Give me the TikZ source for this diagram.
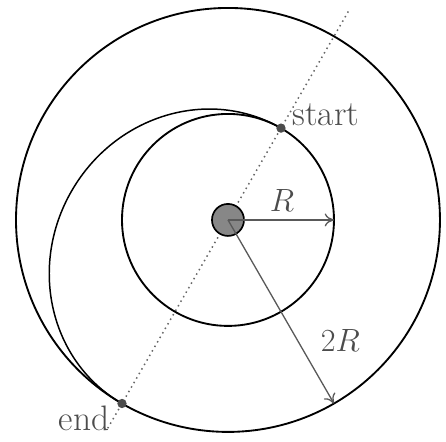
\documentclass[tikz,border=0pt]{standalone}
\usetikzlibrary{arrows.meta}
\begin{document}
\begin{tikzpicture}[x=2cm,y=2cm,
  orbit/.style={line width=1pt,black},
  transfer/.style={line width=0.8pt,black},
  dim/.style={draw=black!65,line width=0.7pt,-{To[length=5pt,width=7pt]}},
  lbl/.style={text=black!70,font=\fontsize{16}{19}\selectfont},
  txt/.style={text=black!70,font=\fontsize{19}{22}\selectfont},
  pt/.style={circle,fill=black!70,inner sep=0pt,minimum size=5pt}]
\useasboundingbox (-2.151,-2.094) rectangle (2.057,2.075);
\coordinate (c) at (0,0);
% dotted line
\coordinate (top) at (60:2.3);
\coordinate (bot) at (240:2.27);
\draw[dotted,black!60,line width=0.8pt] (bot) -- (top);
% orbits
\draw[orbit] (c) circle (1);
\draw[orbit] (c) circle (2);
% transfer half ellipse
\draw[transfer,rotate=60] (1,0) arc (0:180:1.5 and 1.41421);
% central body
\node[circle,draw=black,line width=0.9pt,fill=black!47,minimum size=0.604cm,inner sep=0pt] (sun) at (c) {};
% points
\node[pt] (start) at (60:1) {};
\node[pt] (end) at (240:2) {};
\node[txt] (startlbl) at (0.923,0.99) {start};
\node[txt] (endlbl) at (-1.358,-1.868) {end};
% dimension arrows
\coordinate (r1) at (0:1);
\coordinate (r2) at (-60:2);
\draw[dim] (c) -- (r1);
\draw[dim] (c) -- (r2);
\node[lbl] (rlbl) at (0.51,0.18) {$R$};
\node[lbl] (r2lbl) at (1.06,-1.14) {$2R$};
\end{tikzpicture}
\end{document}
